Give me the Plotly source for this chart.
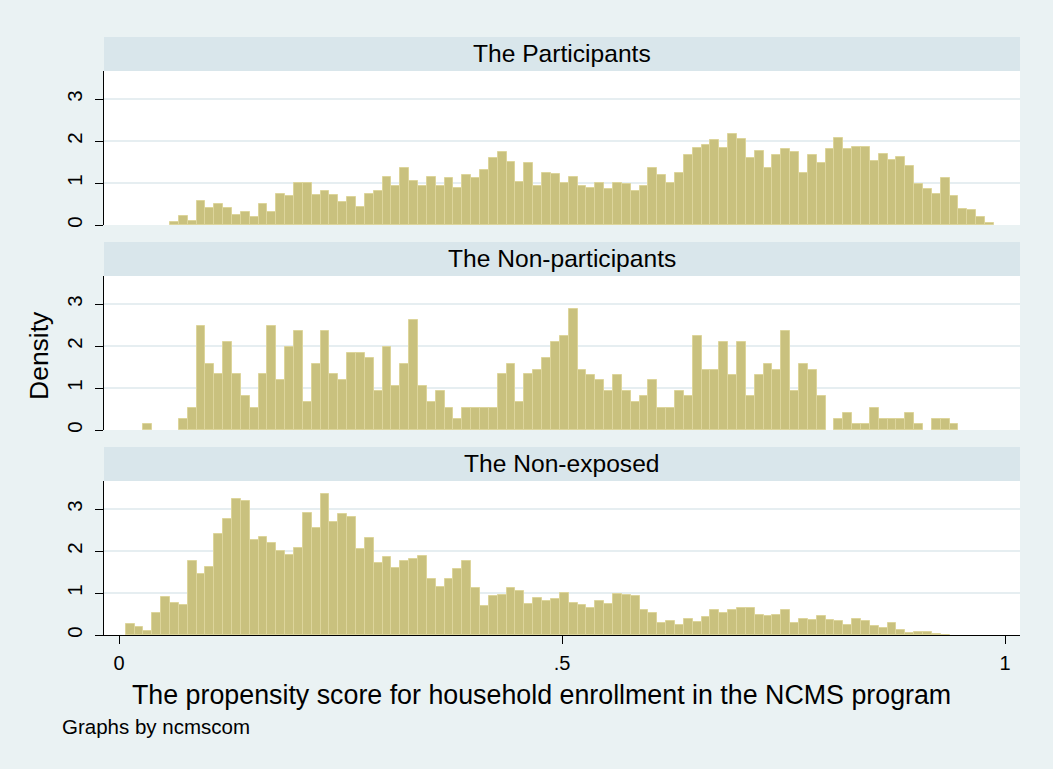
import plotly.graph_objects as go

# ---------------- data (density per bin) ----------------
bin_start = 0.0075
bin_width = 0.01

groups = ["The Participants", "The Non-participants", "The Non-exposed"]

participants = [0, 0, 0, 0, 0,
    0.08, 0.21, 0.10, 0.57, 0.40, 0.51, 0.40, 0.23, 0.32, 0.20,
    0.51, 0.32, 0.75, 0.70, 1.01, 1.01, 0.71, 0.81, 0.71, 0.55,
    0.67, 0.44, 0.73, 0.80, 1.14, 0.93, 1.36, 1.06, 0.94, 1.14,
    0.94, 1.13, 0.89, 1.19, 1.11, 1.30, 1.60, 1.73, 1.50, 1.02,
    1.47, 0.94, 1.25, 1.21,
    1.01, 1.14, 0.94, 0.87, 1.01, 0.85, 1.01, 0.98, 0.81, 0.94,
    1.37, 1.19, 1.01, 1.25, 1.68, 1.83, 1.90, 2.02, 1.83, 2.17,
    2.06, 1.59, 1.77, 1.37, 1.66, 1.80, 1.73, 1.25, 1.68, 1.47,
    1.82, 2.08, 1.80, 1.87, 1.87, 1.52, 1.70, 1.54, 1.63, 1.40,
    0.97, 0.85, 0.73, 1.11, 0.69, 0.37, 0.36, 0.19, 0.04]

non_participants = [0, 0, 0.15, 0, 0, 0, 0.27, 0.52, 2.49, 1.58,
    1.33, 2.10, 1.33, 0.80, 0.52, 1.33, 2.49, 1.18, 1.98, 2.36,
    0.67, 1.58, 2.36, 1.33, 1.18, 1.83, 1.83, 1.72, 0.93, 1.98,
    1.06, 1.58, 2.63, 1.06, 0.67, 0.92, 0.52, 0.27, 0.52, 0.52,
    0.52, 0.52, 1.33, 1.58, 0.67, 1.33, 1.44, 1.72, 2.10, 2.23,
    2.89, 1.44, 1.32, 1.18, 0.92, 1.32, 0.92, 0.67, 0.80, 1.18,
    0.52, 0.52, 0.92, 0.80, 2.23, 1.44, 1.44, 2.10, 1.32, 2.10,
    0.80, 1.32, 1.58, 1.44, 2.36, 0.92, 1.58, 1.44, 0.80, 0,
    0.27, 0.40, 0.14, 0.14, 0.52, 0.27, 0.27, 0.27, 0.40, 0.14,
    0, 0.27, 0.27, 0.14]

non_exposed = [0.27, 0.18, 0.10, 0.53, 0.90, 0.76, 0.71, 1.76, 1.45, 1.63,
    2.40, 2.76, 3.25, 3.19, 2.27, 2.33, 2.20, 2.00, 1.91, 2.08,
    2.90, 2.55, 3.35, 2.70, 2.89, 2.82, 2.04, 2.32, 1.71, 1.85,
    1.59, 1.77, 1.80, 1.88, 1.34, 1.14, 1.33, 1.58, 1.76, 1.11,
    0.68, 0.94, 0.96, 1.11, 1.04, 0.75, 0.89, 0.80, 0.86, 1.01,
    0.77, 0.71, 0.64, 0.80, 0.73, 0.97, 0.95, 0.92, 0.60, 0.53,
    0.29, 0.34, 0.25, 0.39, 0.30, 0.44, 0.59, 0.52, 0.60, 0.65,
    0.64, 0.48, 0.46, 0.48, 0.60, 0.28, 0.37, 0.35, 0.46, 0.35,
    0.33, 0.25, 0.37, 0.34, 0.22, 0.17, 0.29, 0.11, 0.04, 0.06,
    0.08, 0.02, 0.01]

series = [participants, non_participants, non_exposed]

y_ticks = [0, 1, 2, 3]
x_ticks = [0, 0.5, 1]
x_ticklabels = ["0", ".5", "1"]

x_title = "The propensity score for household enrollment in the NCMS program"
y_title = "Density"
note = "Graphs by ncmscom"

# ---------------- styling / geometry ----------------
W, H = 1053, 769
BG = "#EAF2F3"
STRIP = "#D9E6EB"
FILL = "#C9C17E"
EDGE = "#DDD59B"
GRID = "#E6EEF1"
FONT = "Liberation Sans, Arial, sans-serif"

px_left, px_right = 104, 1020
plots_px = [(71, 225), (276, 430), (481, 635)]   # top, bottom pixel of each plot area
strip_h = 34

def fy(py):
    return (H - py) / H

x_range = [(px_left - 119) / 886, 1 + (px_right - 1005) / 886]
y_range = [0, 3.67]

fig = go.Figure()

for i, vals in enumerate(series):
    centers = [bin_start + bin_width * (k + 0.5) for k in range(len(vals))]
    heights = [v if v > 0 else None for v in vals]
    ax = "" if i == 0 else str(i + 1)
    fig.add_trace(go.Bar(
        x=centers, y=heights, width=bin_width,
        marker=dict(color=FILL, line=dict(color=EDGE, width=1)),
        xaxis="x" + ax, yaxis="y" + ax, showlegend=False,
        hovertemplate="%{x:.3f}: %{y}<extra></extra>",
    ))

layout = dict(
    width=W, height=H,
    paper_bgcolor=BG, plot_bgcolor="white",
    margin=dict(l=0, r=0, t=0, b=0),
    bargap=0,
    font=dict(family=FONT, color="black"),
    shapes=[], annotations=[],
)

for i, (top, bot) in enumerate(plots_px):
    ax = "" if i == 0 else str(i + 1)
    last = (i == 2)
    xa = dict(
        domain=[px_left / W, px_right / W], range=x_range,
        anchor="y" + ax, showgrid=False, zeroline=False,
        fixedrange=True,
    )
    if last:
        xa.update(showline=True, linecolor="black", linewidth=1.3,
                  ticks="outside", ticklen=8, tickwidth=1.3, tickcolor="black",
                  tickvals=x_ticks, ticktext=x_ticklabels,
                  tickfont=dict(size=20), automargin=False,
                  ticklabelstandoff=2)
    else:
        xa.update(showline=False, showticklabels=False, ticks="",
                  matches="x3")
    ya = dict(
        domain=[fy(bot), fy(top)], range=y_range, anchor="x" + ax,
        showline=True, linecolor="black", linewidth=1.3,
        ticks="outside", ticklen=8, tickwidth=1.3, tickcolor="black",
        tickvals=y_ticks, tickangle=-90, tickfont=dict(size=20.5),
        ticklabelstandoff=5,
        showgrid=True, gridcolor=GRID, gridwidth=1.5, zeroline=False,
        automargin=False, fixedrange=True,
    )
    layout["xaxis" + ax] = xa
    layout["yaxis" + ax] = ya
    # strip
    layout["shapes"].append(dict(
        type="rect", xref="paper", yref="paper",
        x0=px_left / W, x1=px_right / W, y0=fy(top), y1=fy(top - strip_h),
        fillcolor=STRIP, line=dict(width=0), layer="below",
    ))
    layout["annotations"].append(dict(
        text=groups[i], xref="paper", yref="paper",
        x=(px_left + px_right) / 2 / W, y=fy(top - strip_h / 2 - 0.5),
        xanchor="center", yanchor="middle", showarrow=False,
        font=dict(size=24.6),
    ))

layout["annotations"] += [
    dict(text=y_title, xref="paper", yref="paper", x=39 / W, y=fy(356),
         xanchor="center", yanchor="middle", textangle=-90, showarrow=False,
         font=dict(size=26.5)),
    dict(text=x_title, xref="paper", yref="paper", x=541.5 / W, y=fy(695),
         xanchor="center", yanchor="middle", showarrow=False,
         font=dict(size=26.8)),
    dict(text=note, xref="paper", yref="paper", x=60 / W, y=fy(726),
         xanchor="left", yanchor="middle", showarrow=False,
         font=dict(size=20.5)),
]

fig.update_layout(**layout)
fig.write_html("out.html", config={"displayModeBar": False},
               post_script="document.body.style.margin='0px';")
